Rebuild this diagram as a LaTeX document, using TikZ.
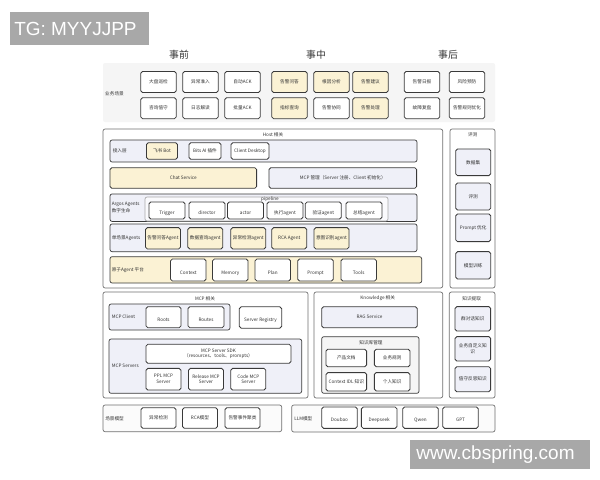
\documentclass[tikz,border=0pt]{standalone}
\usepackage{fontspec}
\setmainfont{Noto Sans CJK SC}
\newfontfamily\wmfont{Liberation Sans}
\definecolor{boxline}{HTML}{3A3A3A}
\definecolor{panelline}{HTML}{707070}
\definecolor{yel}{HTML}{FBF2D4}
\definecolor{lav}{HTML}{EFF0F8}
\definecolor{band}{HTML}{F5F5F5}
\definecolor{wmgray}{HTML}{A8A8A8}
\definecolor{txt}{HTML}{333333}
\begin{document}
\begin{tikzpicture}[x=0.025cm,y=-0.025cm,
  sz/.style 2 args={minimum width=#1*0.025cm,minimum height=#2*0.025cm},
  box/.style={draw=boxline,line width=0.6pt,rounded corners=1.3pt,fill=white,inner sep=0pt,align=center,text=txt,font=\fontsize{3.3}{4.2}\selectfont,sz={35.5}{21}},
  hot/.style={box,fill=yel},
  flat/.style={box,text height=0.8em,text depth=0.2em},
  panel/.style={draw=panelline,line width=0.5pt,rounded corners=1.5pt,fill=white,inner sep=0pt},
  row/.style={panel,draw=boxline,fill=lav},
  lbl/.style={text=txt,font=\fontsize{3.3}{4.8}\selectfont,inner sep=0pt,align=left},
  head/.style={text=txt,font=\fontsize{7}{8}\selectfont,inner sep=0pt},
  wmbox/.style={fill=wmgray,inner sep=0pt},
  wmtext/.style={text=white,font=\wmfont\fontsize{13.5}{16}\selectfont,inner sep=0pt}]

\fill[white] (0,0) rectangle (600,480);
\useasboundingbox (0,0) rectangle (600,480);

\node[wmbox,sz={139}{33.5}] (tg) at (79.5,28.25) {};
\node[wmtext,anchor=west] (tgtext) at (14,28.5) {TG: MYYJJPP};

\node[head] (pre) at (179,55) {事前};
\node[head] (mid) at (316,55) {事中};
\node[head] (post) at (448,55) {事后};

\node[panel,draw=none,fill=band,sz={392}{59}] (scene) at (299,92.5) {};
\node[lbl] (scenelbl) at (114.5,94) {业务场景};
\node[box] (s1) at (158.5,82) {大盘巡检};
\node[box] (s2) at (200.5,82) {异常准入};
\node[box] (s3) at (242.5,82) {自动ACK};
\node[hot] (s4) at (289.5,82) {告警问答};
\node[hot] (s5) at (331.5,82) {根因分析};
\node[hot] (s6) at (370.5,82) {告警建议};
\node[box] (s7) at (422,82) {告警日报};
\node[box] (s8) at (467,82) {风险预防};
\node[box] (t1) at (158.5,108.2) {咨询值守};
\node[box] (t2) at (200.5,108.2) {日志解读};
\node[box] (t3) at (242.5,108.2) {批量ACK};
\node[hot] (t4) at (289.5,108.2) {指标查询};
\node[box] (t5) at (331.5,108.2) {告警协同};
\node[hot] (t6) at (370.5,108.2) {告警处理};
\node[box] (t7) at (422,108.2) {故障复盘};
\node[box] (t8) at (467,108.2) {告警规则优化};

\node[panel,sz={339.7}{159}] (host) at (272.85,208.5) {};
\node[lbl] (hostlbl) at (273,134.5) {Host 相关};

\node[row,sz={307}{22}] (access) at (263.5,151) {};
\node[lbl,anchor=west] (accesslbl) at (112.5,151) {接入层};
\node[hot,sz={31}{16.5}] (feishu) at (162,151) {飞书 Bot};
\node[box,sz={32}{16.5}] (bits) at (205,151) {Bits AI 插件};
\node[box,sz={38}{16.5}] (desktop) at (250,151) {Client Desktop};

\node[hot,sz={146.7}{20.6}] (chat) at (183.3,178) {Chat Service};
\node[box,fill=lav,sz={147.7}{20.6}] (mcpmgmt) at (342.8,178) {MCP 管理（Server 注册、Client 初始化）};

\node[row,sz={307}{27.5}] (argos) at (263.5,207.7) {};
\node[lbl,anchor=west] (argoslbl) at (111.5,207.7) {Argos Agents\\数字生命};
\node[panel,draw=panelline!60,fill=white!70!lav,sz={243}{24}] (pipe) at (266.5,209) {};
\node[lbl] (pipelbl) at (270,199.6) {pipeline};
\node[flat,sz={36}{17}] (trigger) at (167,210.5) {Trigger};
\node[flat,sz={36}{17}] (director) at (207,210.5) {director};
\node[flat,sz={36}{17}] (actor) at (245.5,210.5) {actor};
\node[flat,sz={36}{17}] (exec) at (285,210.5) {执行agent};
\node[flat,sz={36}{17}] (verify) at (323.3,210.5) {验证agent};
\node[flat,sz={36}{17}] (summary) at (364,210.5) {总结agent};

\node[row,sz={307}{27.7}] (single) at (263.5,237.8) {};
\node[lbl,anchor=west] (singlelbl) at (111.5,237.8) {单场景Agents};
\node[hot,sz={35}{21.3}] (qa) at (163,238.3) {告警问答Agent};
\node[hot,sz={35}{21.3}] (query) at (205.3,238.3) {数据查询agent};
\node[hot,sz={35}{21.3}] (anomaly) at (248.3,238.3) {异常检测agent};
\node[hot,sz={35}{21.3}] (rca) at (289.2,238.3) {RCA Agent};
\node[hot,sz={35}{21.3}] (intent) at (331.5,238.3) {意图识别agent};

\node[row,fill=yel,sz={311.7}{26.3}] (atomic) at (265.85,269.85) {};
\node[lbl,anchor=west] (atomiclbl) at (111.5,269.85) {原子Agent 平台};
\node[flat,sz={35.5}{22}] (context) at (188.3,270) {Context};
\node[flat,sz={35.5}{22}] (memory) at (230.3,270) {Memory};
\node[flat,sz={35.5}{22}] (plan) at (272.8,270) {Plan};
\node[flat,sz={35.5}{22}] (prompt) at (315.5,270) {Prompt};
\node[flat,sz={35.5}{22}] (tools) at (358.7,270) {Tools};

\node[panel,sz={45}{159}] (eval) at (472.5,208.5) {};
\node[lbl] (evallbl) at (472.7,134.3) {评测};
\node[box,fill=lav,sz={35}{26.7}] (dataset) at (473.2,162.3) {数据集};
\node[box,fill=lav,sz={35}{27}] (evalbox) at (473.2,196.5) {评测};
\node[box,fill=lav,sz={35}{27.7}] (promptopt) at (473.2,227.8) {Prompt 优化};
\node[box,fill=lav,sz={35}{27.3}] (train) at (473.2,265.3) {模型训练};

\node[panel,sz={205}{106}] (mcp) at (205.5,345) {};
\node[lbl] (mcplbl) at (205,298.3) {MCP 相关};
\node[row,sz={121}{26}] (client) at (169.5,317) {};
\node[lbl,anchor=west] (clientlbl) at (111.5,317) {MCP Client};
\node[flat,sz={35}{21}] (roots) at (163.5,317.2) {Roots};
\node[flat,sz={36}{21}] (routes) at (206,317.2) {Routes};
\node[flat,sz={42.4}{21.4}] (registry) at (260.5,317.5) {Server Registry};
\node[row,sz={192.7}{54.3}] (servers) at (205.35,366.15) {};
\node[lbl,anchor=west] (serverslbl) at (111.5,366) {MCP Servers};
\node[box,sz={145}{19}] (sdk) at (218.5,353.8) {MCP Server SDK\\（resources、tools、prompts）};
\node[box,sz={35}{21.7}] (ppl) at (163.5,379.2) {PPL MCP\\Server};
\node[box,sz={35}{21.7}] (release) at (206,379.2) {Release MCP\\Server};
\node[box,sz={35}{21.7}] (code) at (248.3,379.2) {Code MCP\\Server};

\node[panel,fill=white!60!band,sz={178.7}{26.7}] (scenemodel) at (192.35,418.35) {};
\node[lbl,anchor=west] (scenemodellbl) at (105,418.35) {场景模型};
\node[box,sz={35}{20.6}] (detect) at (158.5,418) {异常检测};
\node[box,sz={35}{20.6}] (rcamodel) at (200,418) {RCA模型};
\node[box,sz={35}{20.6}] (cluster) at (242.5,418) {告警事件聚类};

\node[panel,sz={128.7}{106}] (know) at (378.35,345) {};
\node[lbl] (knowlbl) at (377.7,298) {Knowledge 相关};
\node[box,fill=lav,sz={95.6}{21}] (rag) at (369.5,317.2) {RAG Service};
\node[panel,draw=boxline,fill=band,sz={97.3}{56.6}] (kb) at (370.35,365) {};
\node[lbl] (kblbl) at (371,342.3) {知识库管理};
\node[box,sz={40.7}{17.4}] (docs) at (346.3,358) {产品文档};
\node[box,sz={35.7}{17.4}] (rules) at (392.2,358) {业务规则};
\node[box,sz={40.7}{18.3}] (idl) at (346.3,381.8) {Context IDL 知识};
\node[box,sz={35.7}{18.3}] (personal) at (392.2,381.8) {个人知识};

\node[panel,sz={45.7}{106}] (extract) at (472.15,345) {};
\node[lbl] (extractlbl) at (471.7,298.7) {知识提取};
\node[box,fill=lav,sz={35.7}{24.3}] (chatknow) at (472.8,318.8) {群对话知识};
\node[box,fill=lav,sz={35.7}{24.3}] (custom) at (472.8,348.8) {业务自定义知\\识};
\node[box,fill=lav,sz={35.7}{25}] (reflect) at (472.8,379.2) {值守反思知识};

\node[panel,fill=white!60!band,sz={203.3}{27}] (llm) at (393.35,418.5) {};
\node[lbl,anchor=west] (llmlbl) at (294,418.5) {LLM模型};
\node[flat,sz={35.6}{21.3}] (doubao) at (339.5,417.7) {Doubao};
\node[flat,sz={35.6}{21.3}] (deepseek) at (379.2,417.7) {Deepseek};
\node[flat,sz={35.6}{21.3}] (qwen) at (420.5,417.7) {Qwen};
\node[flat,sz={35.6}{21.3}] (gpt) at (460.5,417.7) {GPT};

\node[wmbox,sz={180}{29.3}] (site) at (500,454.65) {};
\node[wmtext] (sitetext) at (495.5,455) {www.cbspring.com};
\end{tikzpicture}
\end{document}
